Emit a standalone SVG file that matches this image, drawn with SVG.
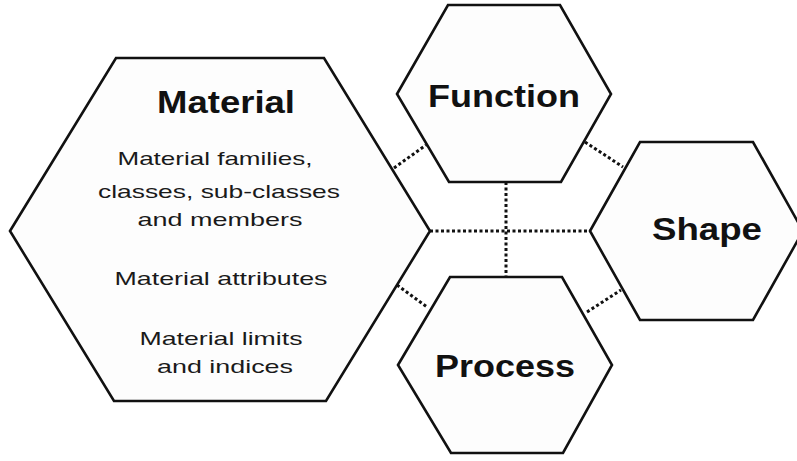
<svg xmlns="http://www.w3.org/2000/svg" width="797" height="461" viewBox="0 0 797 461">
<style>
.hex{fill:#fdfdfd;stroke:#111;stroke-width:2.6;stroke-linejoin:miter}
.conn{stroke:#111;stroke-width:3;stroke-dasharray:3 2.5;fill:none}
.title{font-family:"Liberation Sans",Arial,sans-serif;font-weight:bold;font-size:32px;fill:#111;text-anchor:middle}
.body{font-family:"Liberation Sans",Arial,sans-serif;font-size:19px;fill:#1a1a1a;text-anchor:middle}
</style>
<rect width="797" height="461" fill="#ffffff"/>
<g id="connectors">
<line class="conn" x1="394" y1="168" x2="426" y2="145"/>
<line class="conn" x1="397" y1="285" x2="427" y2="307"/>
<line class="conn" x1="585" y1="142" x2="623" y2="167"/>
<line class="conn" x1="587" y1="312" x2="621" y2="290"/>
<line class="conn" x1="430" y1="231" x2="590" y2="231"/>
<line class="conn" x1="506" y1="182" x2="506" y2="277"/>
</g>
<g id="material">
<polygon class="hex" points="10,231 116,58 324,58 430,231 326,401 114,401"/>
<text class="title" x="226" y="113" textLength="138" lengthAdjust="spacingAndGlyphs">Material</text>
<text class="body" x="215" y="165" textLength="195" lengthAdjust="spacingAndGlyphs">Material families,</text>
<text class="body" x="219" y="198" textLength="242" lengthAdjust="spacingAndGlyphs">classes, sub-classes</text>
<text class="body" x="220" y="226" textLength="165" lengthAdjust="spacingAndGlyphs">and members</text>
<text class="body" x="221" y="285" textLength="213" lengthAdjust="spacingAndGlyphs">Material attributes</text>
<text class="body" x="221" y="345" textLength="163" lengthAdjust="spacingAndGlyphs">Material limits</text>
<text class="body" x="225" y="373" textLength="136" lengthAdjust="spacingAndGlyphs">and indices</text>
</g>
<g id="function">
<polygon class="hex" points="397,94 448,5 560,5 611,94 561,182 449,182"/>
<text class="title" x="504" y="107" textLength="152" lengthAdjust="spacingAndGlyphs">Function</text>
</g>
<g id="shape">
<polygon class="hex" points="590,231 640,142 753,142 803,231 753,320 640,320"/>
<text class="title" x="707" y="240" textLength="110" lengthAdjust="spacingAndGlyphs">Shape</text>
</g>
<g id="process">
<polygon class="hex" points="398,365 450,277 562,277 612,365 563,453 451,453"/>
<text class="title" x="505" y="377" textLength="140" lengthAdjust="spacingAndGlyphs">Process</text>
</g>
</svg>
